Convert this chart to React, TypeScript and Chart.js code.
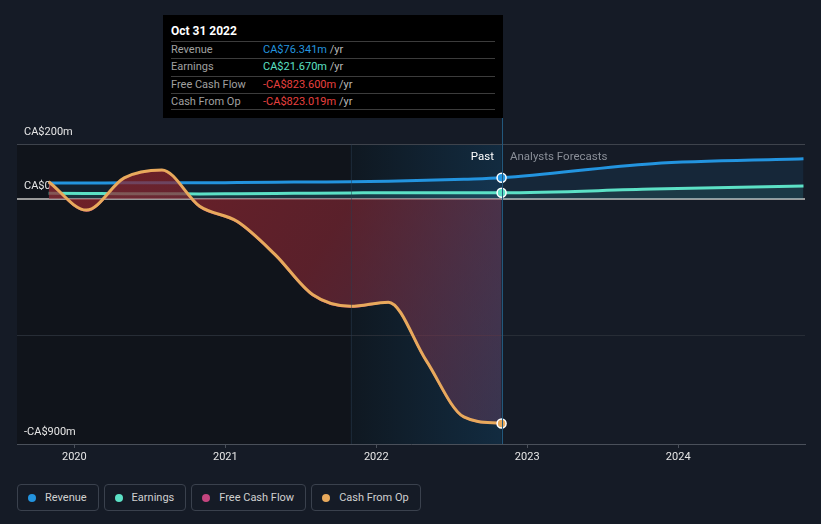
import React, { useEffect, useRef } from "react";
import { Chart, registerables } from "chart.js";

Chart.register(...registerables);

// ---- Data (CA$ millions, x = decimal year) ----
const pastDates = [2019.83, 2020.08, 2020.33, 2020.58, 2020.83, 2021.08, 2021.33, 2021.58, 2021.83, 2022.08, 2022.33, 2022.58, 2022.83];
const revenuePast = [57, 57, 58, 58, 58, 59, 60, 61, 62, 64, 67, 71, 76.341];
const earningsPast = [20, 19, 18, 18, 17, 18, 19, 20, 21, 22, 22, 22, 21.67];
const cashFromOp = [62, -42, 76, 105, -28, -84, -205, -352, -394, -379, -592, -799, -823.019];
const freeCashFlow = [60, -44, 74, 103, -30, -86, -207, -354, -396, -380, -593, -800, -823.6];
const forecastDates = [2023.83, 2024.83];
const revenueForecast = [128, 146];
const earningsForecast = [35, 46];

const yearTicks = [2020, 2021, 2022, 2023, 2024];
const yGridValues = [-900, -500, 0, 200];
const yTickLabels: Record<string, string> = { "200": "CA$200m", "0": "CA$0", "-900": "-CA$900m" };

const pastStart = 2021.83;
const todayDate = 2022.83;
const xMin = 2019.62;
const xMax = 2024.84;
const yMin = -898;
const yMax = 200;

const tooltipTitle = "Oct 31 2022";
const tooltipRows = [
  { label: "Revenue", value: "CA$76.341m", color: "#2394df" },
  { label: "Earnings", value: "CA$21.670m", color: "#5ce1c6" },
  { label: "Free Cash Flow", value: "-CA$823.600m", color: "#e8403f" },
  { label: "Cash From Op", value: "-CA$823.019m", color: "#e8403f" },
];

const legendItems = [
  { label: "Revenue", color: "#2394df" },
  { label: "Earnings", color: "#5ce1c6" },
  { label: "Free Cash Flow", color: "#c4457f" },
  { label: "Cash From Op", color: "#e8a95c" },
];

const FONT = "Roboto, 'Noto Sans', sans-serif";

function pts(xs: number[], ys: number[]) {
  return xs.map((x, i) => ({ x, y: ys[i] }));
}

export default function App() {
  const canvasRef = useRef<HTMLCanvasElement | null>(null);

  useEffect(() => {
    const canvas = canvasRef.current;
    if (!canvas) return;

    const todayIdx = pastDates.indexOf(todayDate);

    const bgPlugin = {
      id: "bgRegions",
      beforeDraw(chart: any) {
        const { ctx, chartArea, scales } = chart;
        if (!chartArea) return;
        const { left, top, bottom } = chartArea;
        const xp = scales.x.getPixelForValue(pastStart);
        const xt = scales.x.getPixelForValue(todayDate);
        ctx.save();
        ctx.fillStyle = "#10141b";
        ctx.fillRect(left, top, xp - left, bottom - top);
        const g = ctx.createLinearGradient(xp, 0, xt, 0);
        g.addColorStop(0, "#0f1821");
        g.addColorStop(1, "#122b40");
        ctx.fillStyle = g;
        ctx.fillRect(xp, top, xt - xp, bottom - top);
        ctx.restore();
      },
      afterDraw(chart: any) {
        const { ctx, chartArea, scales } = chart;
        const { top, bottom } = chartArea;
        const xp = Math.round(scales.x.getPixelForValue(pastStart)) + 0.5;
        const xt = Math.round(scales.x.getPixelForValue(todayDate)) + 0.5;
        ctx.save();
        ctx.lineWidth = 1;
        ctx.strokeStyle = "rgba(40,60,80,0.45)";
        ctx.beginPath();
        ctx.moveTo(xp, top);
        ctx.lineTo(xp, bottom);
        ctx.stroke();
        ctx.strokeStyle = "#22587c";
        ctx.beginPath();
        ctx.moveTo(xt, 118);
        ctx.lineTo(xt, bottom);
        ctx.stroke();
        ctx.restore();
      },
    };

    const dotRadius = (c: any) => (c.dataIndex === todayIdx ? 4.5 : 0);

    const chart = new Chart(canvas, {
      type: "line",
      data: {
        datasets: [
          {
            label: "Cash From Op",
            data: pts(pastDates, cashFromOp),
            borderColor: "#e8a95c",
            borderWidth: 3,
            fill: "origin",
            backgroundColor: (c: any) => {
              const ch = c.chart;
              const a = ch.chartArea;
              if (!a) return "rgba(140,35,40,0.6)";
              const xt = ch.scales.x.getPixelForValue(todayDate);
              const g = ch.ctx.createLinearGradient(a.left, a.top, xt, a.bottom);
              g.addColorStop(0, "rgba(150,35,42,0.75)");
              g.addColorStop(0.55, "rgba(125,38,50,0.68)");
              g.addColorStop(1, "rgba(140,75,115,0.3)");
              return g;
            },
            pointRadius: dotRadius,
            pointHoverRadius: dotRadius,
            pointBackgroundColor: "#e8a95c",
            pointBorderColor: "#ffffff",
            pointBorderWidth: 1.5,
            cubicInterpolationMode: "monotone",
            order: 0,
          },
          {
            label: "Free Cash Flow",
            data: pts(pastDates, freeCashFlow),
            borderColor: "#c4457f",
            borderWidth: 2,
            fill: false,
            pointRadius: 0,
            cubicInterpolationMode: "monotone",
            order: 1,
          },
          {
            label: "Earnings",
            data: pts(pastDates.concat(forecastDates), earningsPast.concat(earningsForecast)),
            borderColor: "#5ce1c6",
            borderWidth: 3,
            fill: "origin",
            backgroundColor: "rgba(92,225,198,0.10)",
            pointRadius: dotRadius,
            pointHoverRadius: dotRadius,
            pointBackgroundColor: "#5ce1c6",
            pointBorderColor: "#ffffff",
            pointBorderWidth: 1.5,
            cubicInterpolationMode: "monotone",
            order: 2,
          },
          {
            label: "Revenue",
            data: pts(pastDates.concat(forecastDates), revenuePast.concat(revenueForecast)),
            borderColor: "#2394df",
            borderWidth: 3,
            fill: "origin",
            backgroundColor: "rgba(35,148,223,0.10)",
            pointRadius: dotRadius,
            pointHoverRadius: dotRadius,
            pointBackgroundColor: "#2394df",
            pointBorderColor: "#ffffff",
            pointBorderWidth: 1.5,
            cubicInterpolationMode: "monotone",
            order: 3,
          },
        ],
      },
      options: {
        animation: false,
        responsive: false,
        devicePixelRatio: 1,
        events: [],
        layout: { padding: { left: 17, right: 16, top: 144, bottom: 9 } },
        plugins: { legend: { display: false }, tooltip: { enabled: false } },
        scales: {
          x: {
            type: "linear",
            min: xMin,
            max: xMax,
            afterBuildTicks: (s: any) => {
              s.ticks = yearTicks.map((v) => ({ value: v }));
            },
            afterFit: (s: any) => {
              s.height = 27;
            },
            grid: {
              display: true,
              drawOnChartArea: false,
              drawTicks: true,
              tickLength: 4,
              color: "#4a505a",
            },
            border: { display: true, color: "#4a505a", width: 1 },
            ticks: {
              color: "#e6e6e6",
              font: { family: FONT, size: 11 },
              padding: 3,
              maxRotation: 0,
              callback: (v: any) => String(v),
            },
          },
          y: {
            type: "linear",
            min: yMin,
            max: yMax,
            afterBuildTicks: (s: any) => {
              s.ticks = yGridValues.map((v) => ({ value: v }));
            },
            afterFit: (s: any) => {
              s.width = 0;
            },
            grid: {
              drawTicks: false,
              color: (c: any) => {
                const v = c.tick && c.tick.value;
                if (v === 0) return "#9a9a9a";
                if (v === 200) return "#3e434c";
                if (v === -900) return "rgba(0,0,0,0)";
                return "#272d36";
              },
              lineWidth: (c: any) => (c.tick && c.tick.value === 0 ? 2 : 1),
            },
            border: { display: false },
            ticks: {
              mirror: true,
              padding: 7,
              labelOffset: -12,
              color: "#e6e6e6",
              font: { family: FONT, size: 11 },
              callback: (v: any) => yTickLabels[String(v)] ?? "",
            },
          },
        },
      },
      plugins: [bgPlugin],
    } as any);

    return () => chart.destroy();
  }, []);

  return (
    <div
      style={{
        position: "fixed",
        left: 0,
        top: 0,
        width: 821,
        height: 524,
        background: "#151b26",
        overflow: "hidden",
        fontFamily: FONT,
      }}
    >
      <canvas
        ref={canvasRef}
        width={821}
        height={480}
        style={{ position: "absolute", left: 0, top: 0, width: 821, height: 480 }}
      />

      {/* Past / Forecast labels */}
      <div
        style={{
          position: "absolute",
          right: 821 - 494,
          top: 148,
          fontSize: 11.5,
          color: "#ffffff",
          lineHeight: "16px",
        }}
      >
        Past
      </div>
      <div
        style={{
          position: "absolute",
          left: 510,
          top: 148,
          fontSize: 11.5,
          color: "#8a8f98",
          lineHeight: "16px",
        }}
      >
        Analysts Forecasts
      </div>

      {/* Tooltip */}
      <div
        style={{
          position: "absolute",
          left: 163,
          top: 15,
          width: 340,
          height: 103,
          background: "#000000",
        }}
      >
        <div
          style={{
            position: "absolute",
            left: 8,
            top: 8,
            fontSize: 12,
            fontWeight: "bold",
            color: "#ffffff",
            lineHeight: "16px",
          }}
        >
          {tooltipTitle}
        </div>
        {tooltipRows.map((r, i) => (
          <div
            key={r.label}
            style={{
              position: "absolute",
              left: 8,
              top: 26 + i * 17.3,
              width: 324,
              height: 17.3,
              borderTop: "1px solid #3c3c3c",
              borderBottom: i === tooltipRows.length - 1 ? "1px solid #3c3c3c" : "none",
              fontSize: 11,
              lineHeight: "16px",
              boxSizing: "border-box",
            }}
          >
            <span style={{ position: "absolute", left: 0, top: 0, color: "#a0a0a0" }}>{r.label}</span>
            <span style={{ position: "absolute", left: 92, top: 0, whiteSpace: "nowrap" }}>
              <span style={{ color: r.color }}>{r.value}</span>
              <span style={{ color: "#b8b8b8" }}> /yr</span>
            </span>
          </div>
        ))}
      </div>

      {/* Legend */}
      <div
        style={{
          position: "absolute",
          left: 17,
          top: 484,
          display: "flex",
          gap: 5,
        }}
      >
        {legendItems.map((it) => (
          <div
            key={it.label}
            style={{
              display: "flex",
              alignItems: "center",
              height: 27,
              boxSizing: "border-box",
              border: "1px solid #3a414d",
              borderRadius: 4,
              paddingLeft: 10,
              paddingRight: 11,
              fontSize: 11,
              color: "#d0d0d0",
            }}
          >
            <span
              style={{
                display: "inline-block",
                width: 8,
                height: 8,
                borderRadius: "50%",
                background: it.color,
                marginRight: 9,
              }}
            />
            {it.label}
          </div>
        ))}
      </div>
    </div>
  );
}
